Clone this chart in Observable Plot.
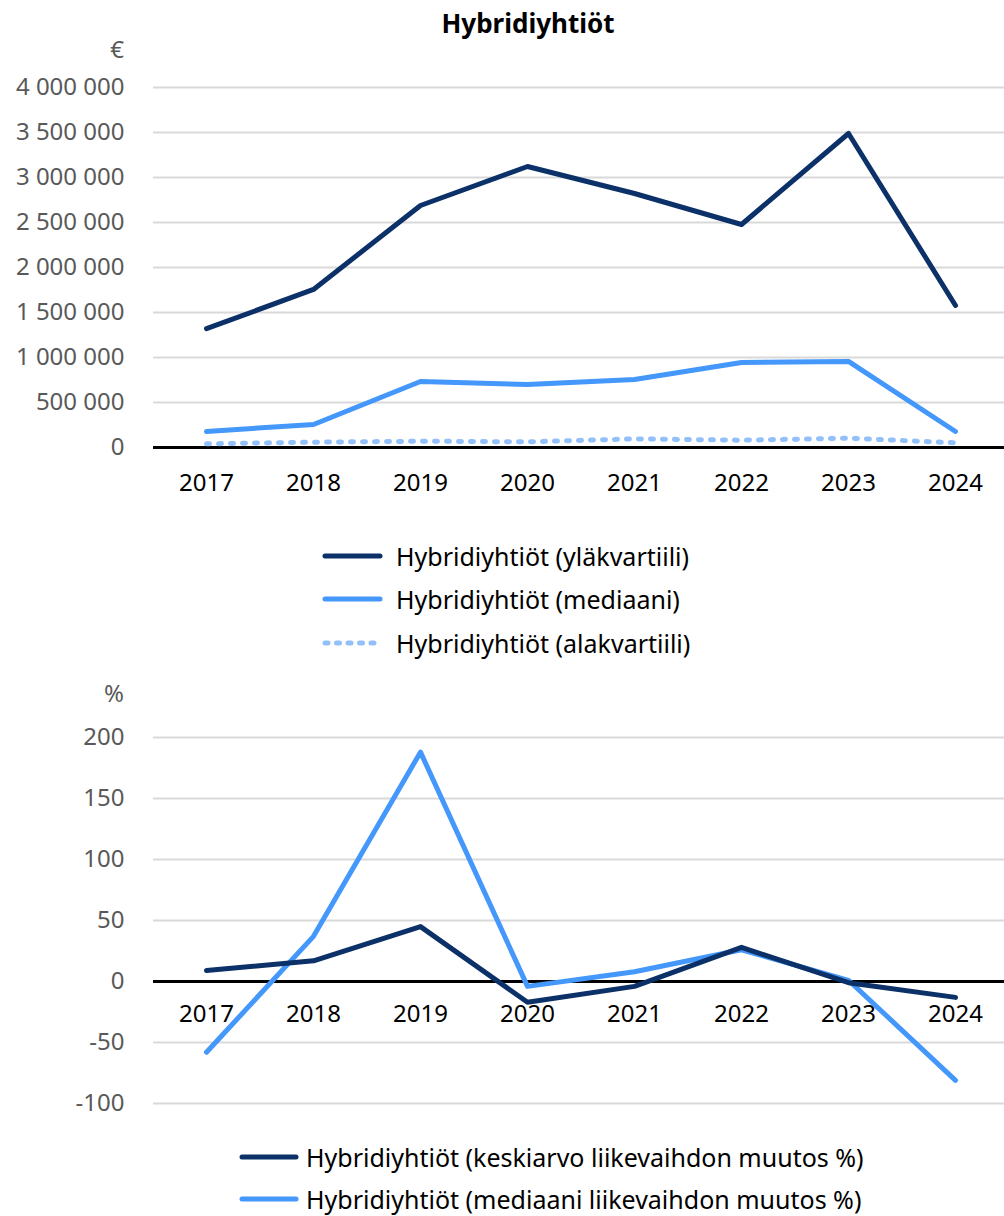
<!DOCTYPE html>
<html>
<head>
<meta charset="utf-8">
<script src="https://cdn.jsdelivr.net/npm/d3@7"></script>
<script src="https://cdn.jsdelivr.net/npm/@observablehq/plot@0.6"></script>
<style>
  body { margin: 0; background: #fff; font-family: "Noto Sans", sans-serif; }
  #root { position: relative; width: 1004px; height: 1216px; overflow: hidden; }
  .abs { position: absolute; }
  .title { left: 0; width: 1056px; top: 5px; text-align: center; font-weight: bold; font-size: 26px; color: #000; }
  .unit { width: 124px; left: 0; text-align: right; font-size: 24px; color: #595959; }
  .leg { display: flex; align-items: center; font-size: 25px; color: #000; height: 30px; white-space: nowrap; }
</style>
</head>
<body>
<div id="root">
  <div class="abs title">Hybridiyhtiöt</div>
  <div class="abs unit" style="top:32px">€</div>
  <div id="c1" class="abs" style="left:0;top:0"></div>
  <div id="l1" class="abs" style="left:322px;top:534px"></div>
  <div class="abs unit" style="top:676px">%</div>
  <div id="c2" class="abs" style="left:0;top:680px"></div>
  <div id="l2" class="abs" style="left:239px;top:1136px"></div>
</div>
<script>
const years = ["2017", "2018", "2019", "2020", "2021", "2022", "2023", "2024"];
const upperQuartile = [1320000, 1756000, 2689000, 3122000, 2822000, 2478000, 3489000, 1578000];
const median = [178000, 256000, 733000, 700000, 756000, 944000, 956000, 178000];
const lowerQuartile = [41000, 59000, 70000, 63000, 96000, 81000, 104000, 52000];
const yTicksTop = [0, 500000, 1000000, 1500000, 2000000, 2500000, 3000000, 3500000, 4000000];

const meanChange = [9, 17, 45, -17, -4, 28, -1, -13];
const medianChange = [-58, 37, 188, -4, 8, 26, 1, -81];
const yTicksBottom = [-100, -50, 0, 50, 100, 150, 200];

const seriesTop = [
  { name: "Hybridiyhtiöt (yläkvartiili)", values: upperQuartile, color: "#0b3168", dash: null },
  { name: "Hybridiyhtiöt (mediaani)", values: median, color: "#4497fb", dash: null },
  { name: "Hybridiyhtiöt (alakvartiili)", values: lowerQuartile, color: "#93c0fa", dash: "3 9" }
];
const seriesBottom = [
  { name: "Hybridiyhtiöt (keskiarvo liikevaihdon muutos %)", values: meanChange, color: "#0b3168", dash: null },
  { name: "Hybridiyhtiöt (mediaani liikevaihdon muutos %)", values: medianChange, color: "#4497fb", dash: null }
];

const fmtTop = v => d3.format(",")(v).replace(/,/g, " ");
const FONT = "Noto Sans, sans-serif";

function lineMarks(series) {
  return series.slice().reverse().map(s =>
    Plot.line(years.map((y, i) => ({ year: y, value: s.values[i] })), {
      x: "year", y: "value", stroke: s.color, strokeWidth: 5,
      strokeLinecap: "round", strokeLinejoin: "round",
      strokeDasharray: s.dash || undefined
    })
  );
}

function chart(opts) {
  return Plot.plot({
    width: 1004,
    height: opts.height,
    marginLeft: 153,
    marginRight: 0,
    marginTop: opts.marginTop,
    marginBottom: opts.marginBottom,
    style: { fontFamily: FONT, fontSize: "24px", background: "transparent", overflow: "visible" },
    x: { type: "point", domain: years, range: [204, 957], padding: 0, axis: null },
    y: { domain: opts.domain },
    marks: [
      Plot.gridY(opts.ticks, { stroke: "#d9d9d9", strokeOpacity: 1, strokeWidth: 2 }),
      Plot.axisY(opts.ticks, { tickSize: 0, tickPadding: 29, tickFormat: opts.fmt, fill: "#595959", fontSize: 24, label: null }),
      Plot.ruleY([0], { stroke: "#000", strokeWidth: 3 }),
      Plot.text(years, { x: d => d, y: () => 0, dy: opts.xDy, fill: "#000", fontSize: 24, lineAnchor: "middle" }),
      ...lineMarks(opts.series)
    ]
  });
}

document.getElementById("c1").appendChild(chart({
  height: 520, marginTop: 87, marginBottom: 73, domain: [0, 4000000],
  ticks: yTicksTop, fmt: fmtTop, series: seriesTop, xDy: 36
}));

document.getElementById("c2").appendChild(chart({
  height: 450, marginTop: 57, marginBottom: 27, domain: [-100, 200],
  ticks: yTicksBottom, fmt: v => String(v), series: seriesBottom, xDy: 33
}));

function legend(el, series, rowH, swW, gap) {
  const node = document.getElementById(el);
  series.forEach(s => {
    const row = document.createElement("div");
    row.className = "leg";
    row.style.height = rowH + "px";
    const svg = d3.create("svg").attr("width", swW + 6).attr("height", 10).style("margin-right", gap + "px");
    svg.append("line").attr("x1", 3).attr("x2", swW + 3).attr("y1", 5).attr("y2", 5)
      .attr("stroke", s.color).attr("stroke-width", 5).attr("stroke-linecap", "round")
      .attr("stroke-dasharray", s.dash ? "3 8.5" : null);
    row.appendChild(svg.node());
    const t = document.createElement("span");
    t.textContent = s.name;
    row.appendChild(t);
    node.appendChild(row);
  });
}
legend("l1", seriesTop, 43.5, 55, 13);
legend("l2", seriesBottom, 42, 54, 7);
</script>
</body>
</html>
